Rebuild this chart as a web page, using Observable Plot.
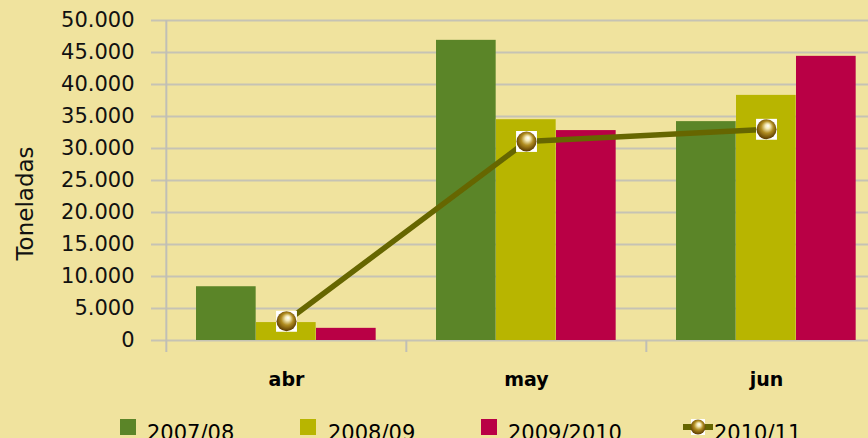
<!DOCTYPE html>
<html>
<head>
<meta charset="utf-8">
<script src="https://cdn.jsdelivr.net/npm/d3@7"></script>
<script src="https://cdn.jsdelivr.net/npm/@observablehq/plot@0.6"></script>
<style>
  html, body { margin: 0; padding: 0; background: #F0E39E; }
  body { width: 868px; height: 438px; overflow: hidden; font-family: "DejaVu Sans", sans-serif; }
  #legend { position: relative; width: 868px; height: 38px; }
  .item { position: absolute; top: 23px; font-size: 21px; line-height: 21px; color: #000; white-space: nowrap; }
  .sw { position: absolute; top: 19px; width: 16px; height: 16px; }
</style>
</head>
<body>
<div id="chart"></div>
<div id="legend"></div>
<script>
const months = ["abr", "may", "jun"];
const seriesNames = ["2007/08", "2008/09", "2009/2010", "2010/11"];
const s0708 = [8400, 46900, 34200];
const s0809 = [2800, 34500, 38300];
const s0910 = [1900, 32800, 44400];
const s1011 = [3000, 31100, 33000];
const yTicks = [0, 5000, 10000, 15000, 20000, 25000, 30000, 35000, 40000, 45000, 50000];
const yLabel = "Toneladas";

const colors = ["#5B8528", "#B8B500", "#B90045", "#666600"];
const fmt = d3.formatLocale({decimal: ",", thousands: ".", grouping: [3], currency: ["", ""]}).format(",d");

const rows = (vals) => months.map((m, i) => ({month: m, value: vals[i]}));
const W = 868, H = 400;
const x0 = 165, x1 = 886;
const bw = (x1 - x0) / months.length;
const barW = 60, pad = 30;

function bars(vals, k) {
  return Plot.barY(rows(vals), {
    x: "month", y: "value", fill: colors[k],
    insetLeft: pad + barW * k,
    insetRight: bw - pad - barW * (k + 1)
  });
}

const font = "DejaVu Sans";
const chart = Plot.plot({
  width: W, height: H,
  marginTop: 20, marginBottom: H - 352, marginLeft: 151, marginRight: 0,
  style: {background: "transparent", fontFamily: font, overflow: "hidden"},
  x: {domain: months, range: [x0, x1], padding: 0, axis: null},
  y: {domain: [0, 50000], range: [340, 20], axis: null},
  marks: [
    Plot.ruleY(yTicks, {stroke: "#C6C3B4", strokeWidth: 2}),
    bars(s0708, 0),
    bars(s0809, 1),
    bars(s0910, 2),
    Plot.ruleX([months[0]], {dx: -bw / 2, stroke: "#C0BFB6", strokeWidth: 2}),
    Plot.ruleX(months.slice(1), {y1: 0, y2: 0, insetBottom: -12, dx: -bw / 2, stroke: "#C0BFB6", strokeWidth: 2}),
    Plot.axisY(yTicks, {anchor: "left", tickSize: 0, tickPadding: 17, tickFormat: fmt, fontSize: 21, fontFamily: font, fill: "#111", label: null}),
    Plot.axisX(months, {anchor: "bottom", tickSize: 0, tickPadding: 19.5, fontSize: 19, fontWeight: "bold", fontFamily: font, fill: "#000", label: null, style: {letterSpacing: "1.5px"}}),
    Plot.text([yLabel], {frameAnchor: "left", textAnchor: "middle", rotate: -90, dx: 25 - 151, dy: 17, fontSize: 23, fontFamily: font, fill: "#111", text: d => d}),
    Plot.line(rows(s1011), {x: "month", y: "value", stroke: colors[3], strokeWidth: 5.5}),
    Plot.dot(rows(s1011), {x: "month", y: "value", symbol: "square", r: 11.8, fill: "#fff", stroke: "none"}),
    Plot.dot(rows(s1011), {x: "month", y: "value", r: 10, fill: "url(#ball)", stroke: "none"})
  ]
});

const defs = `<defs><radialGradient id="ball" cx="50%" cy="45%" r="55%" fx="58%" fy="32%">
<stop offset="0" stop-color="#ffffff"/><stop offset="0.22" stop-color="#f4eab8"/>
<stop offset="0.55" stop-color="#b08c20"/><stop offset="1" stop-color="#5a3a00"/></radialGradient></defs>`;
chart.insertAdjacentHTML("afterbegin", defs);
document.getElementById("chart").appendChild(chart);

// legend
const lg = document.getElementById("legend");
const swX = [120, 300, 481];
const txX = [147, 328, 508];
for (let k = 0; k < 3; k++) {
  const s = document.createElement("div");
  s.className = "sw"; s.style.left = swX[k] + "px"; s.style.background = colors[k];
  lg.appendChild(s);
  const t = document.createElement("div");
  t.className = "item"; t.style.left = txX[k] + "px"; t.textContent = seriesNames[k];
  lg.appendChild(t);
}
const m = document.createElementNS("http://www.w3.org/2000/svg", "svg");
m.setAttribute("width", 30); m.setAttribute("height", 20);
m.style.position = "absolute"; m.style.left = "683px"; m.style.top = "17px";
m.innerHTML = `<defs><radialGradient id="ball2" cx="50%" cy="45%" r="55%" fx="58%" fy="32%">
<stop offset="0" stop-color="#ffffff"/><stop offset="0.22" stop-color="#f4eab8"/>
<stop offset="0.55" stop-color="#b08c20"/><stop offset="1" stop-color="#5a3a00"/></radialGradient></defs>
<line x1="0" x2="30" y1="10" y2="10" stroke="${colors[3]}" stroke-width="6"/>
<rect x="8" y="2" width="14" height="16" fill="#fff"/>
<circle cx="15" cy="10" r="7.5" fill="url(#ball2)"/>`;
lg.appendChild(m);
const t4 = document.createElement("div");
t4.className = "item"; t4.style.left = "714px"; t4.textContent = seriesNames[3];
lg.appendChild(t4);
</script>
</body>
</html>
